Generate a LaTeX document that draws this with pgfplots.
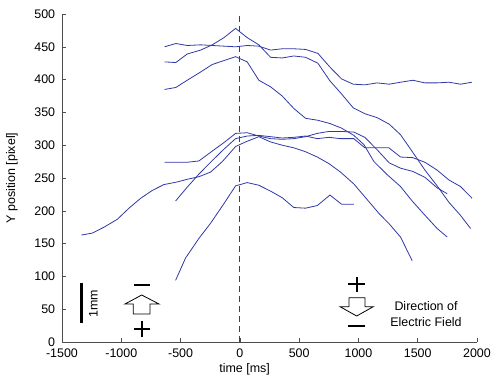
\documentclass[border=0pt]{standalone}
\usepackage{fontspec}
\setmainfont{Liberation Sans}
\usepackage{pgfplots}
\pgfplotsset{compat=1.18}
\definecolor{lb}{RGB}{48,56,168}
\pgfplotsset{trk/.style={lb, solid, line width=0.8bp, mark=none}}
\begin{document}
\fontsize{12.5}{16}\selectfont
\begin{tikzpicture}
\useasboundingbox (0,0) rectangle (502bp,377bp);
\begin{axis}[
 at={(62bp,35bp)}, anchor=south west,
 scale only axis, width=415bp, height=328bp,
 xmin=-1500, xmax=2000, ymin=0, ymax=500,
 axis x line*=bottom, axis y line*=left,
 axis line style={-, black!70, line width=0.6bp},
 tick align=inside, major tick length=4bp,
 tick style={black!70, line width=0.6bp},
 xtick={-1500,-1000,...,2000}, ytick={0,50,...,500},
 tick label style={font=\fontsize{12.5}{14}\selectfont},
 label style={font=\fontsize{12.5}{14}\selectfont},
 /pgf/number format/assume math mode=true,
 scaled ticks=false,
 xticklabel style={/pgf/number format/1000 sep={}, yshift=-2.5bp},
 yticklabel style={xshift=-2.5bp},
 xlabel={time [ms]}, ylabel={Y position [pixel]},
 xlabel style={at={(axis description cs:0.44,-0.083)}, anchor=center},
 ylabel style={at={(axis description cs:-0.1205,0.5)}, anchor=center},
 clip=false,
]
\addplot[trk] coordinates {(-635,450) (-540,455) (-444,452) (-331,453) (-233,452) (-134,451) (-36,450) (62,452) (160,451) (259,445) (357,447) (455,447) (554,446) (658,440) (760,419) (858,401) (956,393) (1054,392) (1158,395) (1260,393) (1355,396) (1459,399) (1561,395) (1664,395) (1763,396) (1861,393) (1957,396)};
\addplot[trk] coordinates {(-635,427) (-540,426) (-444,439) (-331,445) (-233,453) (-134,464) (-36,478) (62,464) (160,453) (259,434) (357,433) (455,436) (554,434) (658,425) (760,398) (858,378) (956,357) (1054,348) (1158,342) (1260,332) (1355,316) (1459,289) (1561,262) (1664,238) (1763,213) (1861,193) (1946,173)};
\addplot[trk] coordinates {(-635,385) (-540,388) (-444,399) (-345,410) (-233,423) (-134,429) (-36,435) (62,427) (160,399) (259,389) (357,375) (455,356) (554,341) (658,338) (760,333) (858,326) (961,315) (1046,301) (1131,275) (1243,255) (1355,237) (1453,215) (1552,195) (1664,173) (1749,160)};
\addplot[trk] coordinates {(-635,274) (-540,274) (-444,274) (-345,276) (-233,291) (-134,304) (-36,318) (62,319) (160,314) (259,310) (357,309) (455,310) (554,313) (653,318) (751,321) (849,321) (961,320) (1054,312) (1158,293) (1260,273) (1355,265) (1459,260) (1561,251) (1664,235) (1749,226)};
\addplot[trk] coordinates {(-542,215) (-444,236) (-345,256) (-247,274) (-134,294) (-36,310) (62,314) (160,315) (259,313) (357,311) (455,312) (554,314) (653,310) (751,312) (849,310) (961,310) (1054,296) (1158,296) (1257,296) (1355,282) (1459,281) (1561,274) (1664,262) (1763,247) (1861,237) (1959,219)};
\addplot[trk] coordinates {(-1337,163) (-1245,166) (-1146,175) (-1034,187) (-935,204) (-837,219) (-739,231) (-640,240) (-528,244) (-444,248) (-345,252) (-247,259) (-148,275) (-36,298) (48,305) (160,313) (259,305) (357,300) (455,296) (554,290) (653,282) (751,272) (849,259) (961,241) (1074,217) (1173,196) (1260,180) (1355,160) (1453,124)};
\addplot[trk] coordinates {(-542,94) (-458,128) (-345,158) (-247,181) (-134,211) (-36,238) (62,243) (160,239) (259,230) (357,220) (455,205) (554,204) (653,208) (760,224) (858,210) (961,210)};
\addplot[trk, dash pattern=on 6bp off 4bp] coordinates {(0,0) (0,500)};
\end{axis}
\begin{scope}[x=1bp,y=1bp]
\draw[line width=3bp] (81,93.7) -- (81,53.7);
\node[rotate=90] at (93.3,73) {1mm};
\draw[line width=0.8bp] (141.7,82) -- (159,73) -- (150,73) -- (150,63) -- (133.3,63) -- (133.3,73) -- (125,73) -- cycle;
\draw[line width=2bp] (134,92) -- (150,92);
\draw[line width=2bp] (134,48) -- (150,48) (142,40) -- (142,56);
\draw[line width=2bp] (348.3,92.7) -- (365,92.7) (356.7,85.3) -- (356.7,100.3);
\draw[line width=0.8bp] (349,79.3) -- (365,79.3) -- (365,70.3) -- (373.3,70.3) -- (356.7,61) -- (340,70.3) -- (349,70.3) -- cycle;
\draw[line width=2bp] (348.3,51) -- (365,51);
\node[align=center] at (426,63) {Direction of\\Electric Field};
\end{scope}
\end{tikzpicture}
\end{document}
